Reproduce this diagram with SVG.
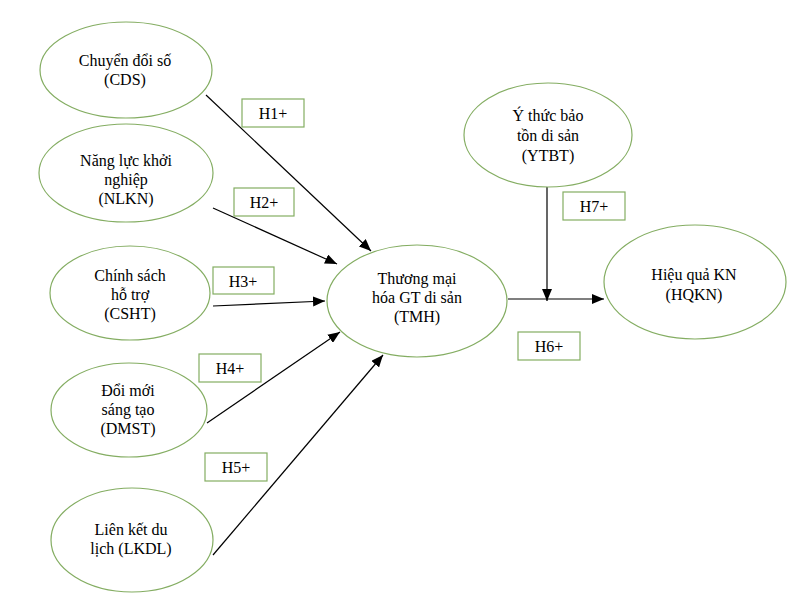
<svg xmlns="http://www.w3.org/2000/svg" width="795" height="607" viewBox="0 0 795 607">
<defs>
<style>
.n{fill:#fff;stroke:#84ad62;stroke-width:1.2}
.b{fill:#fff;stroke:#84ad62;stroke-width:1.2}
.t{font-family:"Liberation Serif","Times New Roman",serif;font-size:16px;fill:#000;text-anchor:middle}
.c{stroke:#000;stroke-width:1.2;fill:none;marker-end:url(#ah)}
</style>
<marker id="ah" markerUnits="userSpaceOnUse" markerWidth="12" markerHeight="10" viewBox="0 0 12 10" refX="12" refY="5" orient="auto">
<path d="M0,0 L12,5 L0,10 z" fill="#000"/>
</marker>
</defs>
<rect width="795" height="607" fill="#fff"/>
<g id="connectors">
<line class="c" x1="206" y1="95" x2="371" y2="251"/>
<line class="c" x1="213" y1="208" x2="337" y2="264"/>
<line class="c" x1="213" y1="306" x2="325" y2="301"/>
<line class="c" x1="207" y1="423" x2="340" y2="332"/>
<line class="c" x1="213" y1="555" x2="383" y2="355"/>
<line class="c" x1="508" y1="299" x2="604" y2="299"/>
<line class="c" x1="547" y1="185" x2="547" y2="301"/>
</g>
<g id="CDS"><ellipse class="n" cx="126" cy="70" rx="86" ry="48"/><text class="t" x="125" y="66">Chuyển đổi số</text><text class="t" x="125" y="85">(CDS)</text></g>
<g id="NLKN"><ellipse class="n" cx="126" cy="173" rx="87" ry="49"/><text class="t" x="126" y="166">Năng lực khởi</text><text class="t" x="126" y="185">nghiệp</text><text class="t" x="126" y="204">(NLKN)</text></g>
<g id="CSHT"><ellipse class="n" cx="130" cy="293" rx="80" ry="47"/><text class="t" x="130" y="281">Chính sách</text><text class="t" x="130" y="300">hỗ trợ</text><text class="t" x="130" y="319">(CSHT)</text></g>
<g id="DMST"><ellipse class="n" cx="129" cy="410" rx="78" ry="47"/><text class="t" x="128" y="396">Đổi mới</text><text class="t" x="128" y="415">sáng tạo</text><text class="t" x="128" y="434">(DMST)</text></g>
<g id="LKDL"><ellipse class="n" cx="132" cy="540" rx="81" ry="52"/><text class="t" x="131" y="535">Liên kết du</text><text class="t" x="131" y="554">lịch (LKDL)</text></g>
<g id="TMH"><ellipse class="n" cx="417" cy="301" rx="90" ry="56"/><text class="t" x="417" y="284">Thương mại</text><text class="t" x="417" y="303">hóa GT di sản</text><text class="t" x="417" y="322">(TMH)</text></g>
<g id="YTBT"><ellipse class="n" cx="548" cy="135" rx="84" ry="52"/><text class="t" x="548" y="121">Ý thức bảo</text><text class="t" x="548" y="141">tồn di sản</text><text class="t" x="548" y="161">(YTBT)</text></g>
<g id="HQKN"><ellipse class="n" cx="695" cy="282" rx="91" ry="57"/><text class="t" x="694" y="280">Hiệu quả KN</text><text class="t" x="694" y="300">(HQKN)</text></g>
<g id="H1"><rect class="b" x="242" y="99" width="62" height="28"/><text class="t" x="273" y="119">H1+</text></g>
<g id="H2"><rect class="b" x="234" y="188" width="60" height="28"/><text class="t" x="264" y="208">H2+</text></g>
<g id="H3"><rect class="b" x="213" y="267" width="61" height="27"/><text class="t" x="243" y="287">H3+</text></g>
<g id="H4"><rect class="b" x="199" y="354" width="62" height="28"/><text class="t" x="230" y="374">H4+</text></g>
<g id="H5"><rect class="b" x="205" y="453" width="62" height="28"/><text class="t" x="236" y="473">H5+</text></g>
<g id="H6"><rect class="b" x="518" y="332" width="62" height="28"/><text class="t" x="549" y="352">H6+</text></g>
<g id="H7"><rect class="b" x="563" y="192" width="62" height="28"/><text class="t" x="594" y="212">H7+</text></g>
</svg>
